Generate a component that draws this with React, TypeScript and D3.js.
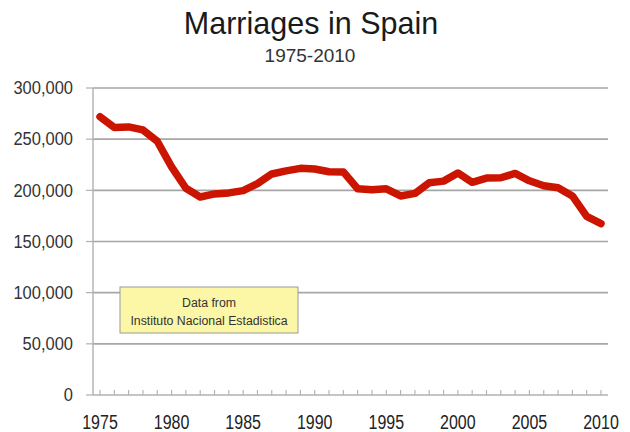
import React from "react";
import * as d3 from "d3";

const years: number[] = d3.range(1975, 2011);
const marriages: number[] = [
  272000, 261500, 262000, 259000, 248000, 223000, 202000, 193500, 196500, 197500,
  199700, 206500, 216000, 219000, 221500, 220800, 218200, 218000, 201500, 200500,
  201500, 194500, 197000, 207500, 209000, 217000, 207800, 212000, 212300, 216500,
  209300, 204500, 202500, 194500, 174500, 167500,
];
const yTicks: number[] = [0, 50000, 100000, 150000, 200000, 250000, 300000];
const xLabelYears: number[] = [1975, 1980, 1985, 1990, 1995, 2000, 2005, 2010];
const title = "Marriages in Spain";
const subtitle = "1975-2010";
const noteLines: string[] = ["Data from", "Instituto Nacional Estadistica"];

const W = 630;
const H = 432;
const plotLeft = 93;
const plotRight = 608;
const plotTop = 88;
const plotBottom = 395;

export default function App() {
  const x = d3.scalePoint<number>().domain(years).range([100, 601]);
  const y = d3.scaleLinear().domain([0, 300000]).range([plotBottom, plotTop]);
  const line = d3
    .line<number>()
    .x((_, i) => x(years[i]) as number)
    .y((d) => y(d))
    .curve(d3.curveLinear);
  const fmt = d3.format(",");
  const font = "'Liberation Sans', Arial, sans-serif";

  return (
    <svg
      width={W}
      height={H}
      style={{ position: "absolute", left: 0, top: 0, background: "#fff" }}
      fontFamily={font}
    >
      <rect x={0} y={0} width={W} height={H} fill="#fff" />
      <text x={311} y={34} textAnchor="middle" fontSize={30.5} fill="#1a1a1a">
        {title}
      </text>
      <text x={310} y={62} textAnchor="middle" fontSize={19} fill="#333">
        {subtitle}
      </text>

      {/* gridlines */}
      {yTicks.map((t) => (
        <g key={t}>
          {t > 0 && (
            <line
              x1={plotLeft}
              x2={plotRight}
              y1={y(t)}
              y2={y(t)}
              stroke="#a6a6a6"
              strokeWidth={1.6}
            />
          )}
          <line x1={86} x2={plotLeft} y1={y(t)} y2={y(t)} stroke="#b0b0b0" strokeWidth={1.2} />
          <text
            x={73}
            y={0}
            textAnchor="end"
            fontSize={16.5}
            fill="#333"
            transform={`translate(0, ${y(t) + 6.3}) scale(1, 1.1)`}
          >
            {fmt(t)}
          </text>
        </g>
      ))}

      {/* axes */}
      <line x1={plotLeft} x2={plotLeft} y1={plotTop} y2={plotBottom} stroke="#b0b0b0" strokeWidth={1.4} />
      <line x1={plotLeft} x2={plotRight} y1={plotBottom} y2={plotBottom} stroke="#b0b0b0" strokeWidth={1.4} />
      {years.map((yr) => (
        <line
          key={yr}
          x1={x(yr) as number}
          x2={x(yr) as number}
          y1={plotBottom - 5}
          y2={plotBottom}
          stroke="#b0b0b0"
          strokeWidth={1.1}
        />
      ))}
      {xLabelYears.map((yr) => (
        <text
          key={yr}
          x={0}
          y={0}
          textAnchor="middle"
          fontSize={16}
          fill="#222"
          transform={`translate(${x(yr) as number}, 429) scale(1, 1.22)`}
        >
          {yr}
        </text>
      ))}

      {/* annotation box */}
      <rect x={120} y={287} width={178} height={46} fill="#fbf7a6" stroke="#9a9a9a" strokeWidth={1} />
      {noteLines.map((s, i) => (
        <text key={s} x={209} y={307 + i * 17.5} textAnchor="middle" fontSize={12.3} fill="#333">
          {s}
        </text>
      ))}

      {/* data line */}
      <path
        d={line(marriages) || ""}
        fill="none"
        stroke="#cc1500"
        strokeWidth={7.5}
        strokeLinejoin="round"
        strokeLinecap="round"
      />
    </svg>
  );
}
